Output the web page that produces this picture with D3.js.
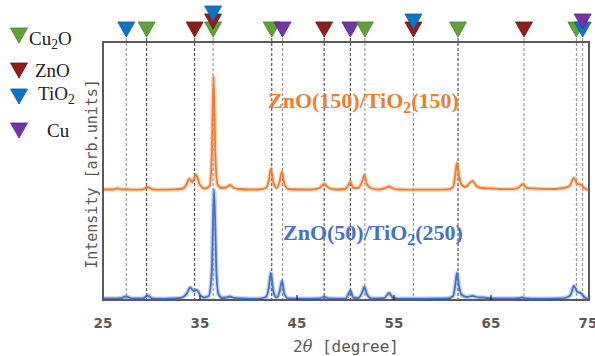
<!DOCTYPE html>
<html>
<head>
<meta charset="utf-8">
<script src="https://cdn.jsdelivr.net/npm/d3@7"></script>
<style>
  body { margin: 0; background: #fff; }
  svg { display: block; }
</style>
</head>
<body>
<script>
// XRD patterns (2theta in degree, intensity in arb. units)
var xTicks = [25, 35, 45, 55, 65, 75];

var phaseNames = ["Cu2O", "ZnO", "TiO2", "Cu"];
var cu2oLines = [29.5, 36.35, 42.4, 52.0, 61.6, 73.8];
var znoLines = [34.45, 36.35, 47.8, 57.0, 68.4];
var tio2Lines = [27.4, 36.35, 57.0, 74.45];
var cuLines = [43.5, 50.5, 74.45];

var labelTop = "ZnO(150)/TiO2(150)";
var labelBottom = "ZnO(50)/TiO2(250)";

var seriesTop = [
	[25, 0.5], [26, 0.5], [26.5, 1.5], [27, 0.5], [27.4, 0.8], [28, 0.3], [29.1, 0.5], [29.6, 3], [30.1, 0.5],
	[31, 0.3], [32, 0.5], [33, 1], [33.5, 3.5], [33.9, 11], [34.2, 8], [34.6, 15], [35, 5], [35.5, 1.5],
	[36, 4], [36.2, 30], [36.4, 113], [36.6, 30], [36.8, 6], [37.2, 2], [37.7, 2.5], [38.1, 5], [38.5, 2],
	[39, 1], [40, 0.5], [41, 0.5], [41.8, 2], [42.1, 10], [42.3, 21], [42.55, 8], [42.9, 2], [43.2, 8],
	[43.45, 18], [43.7, 6], [44.1, 1], [45, 0.5], [46.5, 0.5], [47.3, 2], [47.8, 6], [48.3, 2], [49, 0.5],
	[50, 1], [50.3, 5], [50.5, 8], [50.8, 2], [51.3, 2], [51.7, 8], [51.95, 15], [52.2, 6], [52.7, 1.5],
	[53.5, 0.5], [54.1, 2], [54.5, 3.5], [54.9, 1.5], [55.5, 0.5], [57, 0.3], [59, 0.3], [60.5, 0.5],
	[61.1, 3], [61.3, 14], [61.5, 27], [61.7, 14], [62, 5], [62.4, 3], [62.8, 7], [63.1, 9], [63.5, 4],
	[64, 2], [65, 1.5], [66, 1], [67, 0.8], [67.8, 2], [68.3, 6], [68.7, 2], [69.5, 1.5], [70.5, 1],
	[71.5, 1], [72.5, 2], [73.1, 4], [73.55, 12], [73.9, 6], [74.25, 5.5], [74.6, 2], [75, 0]
];

var seriesBottom = [
	[25, 0.5], [26, 0.5], [26.8, 0.8], [27.4, 2.5], [28, 0.5], [29.1, 0.5], [29.6, 3.5], [30.1, 0.5],
	[31, 0.3], [32, 0.5], [33, 1], [33.6, 5], [34, 11.5], [34.35, 8], [34.66, 9], [35, 4], [35.4, 1.5],
	[35.9, 3], [36.2, 25], [36.45, 109], [36.7, 25], [36.9, 5], [37.3, 1], [37.7, 1.5], [38.1, 2.5],
	[38.5, 1], [39.5, 0.5], [41, 0.3], [41.8, 2], [42.1, 12], [42.3, 26], [42.55, 8], [42.9, 1.5],
	[43.2, 7], [43.45, 18], [43.7, 5], [44.1, 0.5], [46, 0.3], [47.3, 0.5], [47.8, 2], [48.3, 0.5],
	[50, 0.3], [50.3, 5], [50.5, 8.5], [50.8, 1.5], [51.3, 1], [51.7, 6], [51.95, 12], [52.2, 5],
	[52.7, 0.5], [54, 0.8], [54.5, 6], [54.9, 1], [55.5, 0.3], [58, 0.3], [60.5, 0.5], [61.1, 3],
	[61.3, 13], [61.5, 26], [61.7, 13], [62, 4], [62.5, 2], [63.1, 3], [63.7, 1.5], [64.2, 1.5], [65, 0.5],
	[67, 0.5], [67.8, 0.8], [68.2, 1.5], [68.7, 0.5], [70, 0.3], [72, 0.5], [72.8, 1.5], [73.2, 4],
	[73.55, 13], [73.9, 7], [74.25, 6], [74.6, 2], [75, 0]
];
var topOffset = 109; // vertical shift of the upper pattern

var W = 595, H = 356;
var margin = {top: 42, right: 6, bottom: 56, left: 103};

var svg = d3.select("body").append("svg")
	.attr("width", W)
	.attr("height", H);

var x = d3.scaleLinear().domain([25, 75]).range([margin.left, 588]);
var y = d3.scaleLinear().domain([0, 260]).range([299, 39]);

var phaseColor = {Cu2O: "#62a03a", ZnO: "#8e1d1d", TiO2: "#0a74c9", Cu: "#7434a4"};
var phaseEdge = {Cu2O: "#4a7f2a", ZnO: "#6d1212", TiO2: "#075fa6", Cu: "#5b2485"};
var phaseLines = {Cu2O: cu2oLines, ZnO: znoLines, TiO2: tio2Lines, Cu: cuLines};

// reference lines (dashed)
var allLines = Array.from(new Set([].concat(cu2oLines, znoLines, tio2Lines, cuLines))).sort(d3.ascending);
var darkLines = [29.5, 34.45, 42.4, 47.8, 50.5, 61.6];

svg.append("g").selectAll("line")
	.data(allLines)
	.enter().append("line")
		.attr("x1", function(d) { return x(d); })
		.attr("x2", function(d) { return x(d); })
		.attr("y1", 38)
		.attr("y2", 300)
		.attr("stroke", function(d) { return darkLines.indexOf(d) >= 0 ? "#3a3a3a" : "#8c8c8c"; })
		.attr("stroke-width", 1)
		.attr("stroke-dasharray", "3,2");

// patterns
var line = d3.line()
	.x(function(d) { return x(d[0]); })
	.curve(d3.curveMonotoneX);

function drawPattern(data, offset, color) {
	line.y(function(d) { return y(d[1] + offset); });
	svg.append("path")
		.datum(data)
		.attr("d", line)
		.attr("fill", "none")
		.attr("stroke", color)
		.attr("stroke-opacity", 0.3)
		.attr("stroke-width", 4.5)
		.attr("stroke-linejoin", "round");
	svg.append("path")
		.datum(data)
		.attr("d", line)
		.attr("fill", "none")
		.attr("stroke", color)
		.attr("stroke-width", 1.8)
		.attr("stroke-linejoin", "round");
}
drawPattern(seriesTop, topOffset, "#ed7d31");
drawPattern(seriesBottom, 0, "#4472c4");

// frame
svg.append("rect")
	.attr("x", margin.left)
	.attr("y", margin.top)
	.attr("width", 589 - margin.left)
	.attr("height", 300 - margin.top)
	.attr("fill", "none")
	.attr("stroke", "#595959")
	.attr("stroke-width", 2);

// inward ticks
svg.append("g").selectAll("line")
	.data(xTicks.slice(1, -1))
	.enter().append("line")
		.attr("x1", function(d) { return x(d); })
		.attr("x2", function(d) { return x(d); })
		.attr("y1", 300)
		.attr("y2", 295)
		.attr("stroke", "#222")
		.attr("stroke-width", 1.2);

svg.append("g").selectAll("text")
	.data(xTicks)
	.enter().append("text")
		.attr("x", function(d) { return x(d); })
		.attr("y", 328)
		.attr("text-anchor", "middle")
		.attr("font-family", "DejaVu Sans")
		.attr("font-weight", "bold")
		.attr("font-size", 13.5)
		.attr("fill", "#595959")
		.text(function(d) { return d; });

// axis titles
var xt = svg.append("text")
	.attr("x", 293)
	.attr("y", 352)
	.attr("font-family", "DejaVu Sans Mono")
	.attr("font-size", 16)
	.attr("fill", "#595959");
xt.append("tspan").text("2");
xt.append("tspan").attr("font-style", "italic").attr("font-family", "DejaVu Serif").text("θ");
xt.append("tspan").text(" [degree]");

svg.append("text")
	.attr("transform", "translate(97,174) rotate(-90)")
	.attr("text-anchor", "middle")
	.attr("font-family", "DejaVu Sans Mono")
	.attr("font-size", 15)
	.attr("fill", "#595959")
	.text("Intensity [arb.units]");

// chemical formula with subscript digits
function formula(sel, str) {
	var parts = str.match(/[A-Za-z]+|\d+|[^A-Za-z\d]+/g);
	var prev = "", shifted = false;
	parts.forEach(function(p) {
		var ts = sel.append("tspan");
		if (/^\d+$/.test(p) && /[A-Za-z]$/.test(prev)) {
			ts.attr("font-size", "0.72em").attr("dy", "0.3em");
			shifted = true;
		} else if (shifted) {
			ts.attr("dy", "-0.216em");
			shifted = false;
		}
		ts.text(p);
		prev = p;
	});
}

var t1 = svg.append("text")
	.attr("x", 268).attr("y", 108)
	.attr("font-family", "Liberation Serif")
	.attr("font-weight", "bold")
	.attr("font-size", 22)
	.attr("fill", "#ed7d31");
formula(t1, labelTop);

var t2 = svg.append("text")
	.attr("x", 283).attr("y", 240)
	.attr("font-family", "Liberation Serif")
	.attr("font-weight", "bold")
	.attr("font-size", 22)
	.attr("fill", "#4472c4");
formula(t2, labelBottom);

// markers above the frame
var tri = function(cx, top) {
	return "M" + (cx - 8.5) + "," + top + "L" + (cx + 8.5) + "," + top + "L" + cx + "," + (top + 15) + "Z";
};
var markers = [];
phaseNames.forEach(function(p) {
	phaseLines[p].forEach(function(v) {
		var level = markers.filter(function(m) { return m.pos === v; }).length;
		markers.push({phase: p, pos: v, level: level});
	});
});
markers.sort(function(a, b) { return a.pos - b.pos || a.level - b.level; });

svg.append("g").selectAll("path")
	.data(markers)
	.enter().append("path")
		.attr("d", function(d) { return tri(x(d.pos), 22 - d.level * 8); })
		.attr("fill", function(d) { return phaseColor[d.phase]; })
		.attr("stroke", function(d) { return phaseEdge[d.phase]; })
		.attr("stroke-width", 0.8);

// legend
var legendY = [28, 63, 89, 123];
var legendTextX = [29, 35, 38, 47];
var legendBase = [45, 77, 100, 137];
phaseNames.forEach(function(p, i) {
	svg.append("path")
		.attr("d", tri(19, legendY[i]))
		.attr("fill", phaseColor[p])
		.attr("stroke", phaseEdge[p])
		.attr("stroke-width", 0.8);
	var t = svg.append("text")
		.attr("x", legendTextX[i])
		.attr("y", legendBase[i])
		.attr("font-family", "Liberation Serif")
		.attr("font-size", 19)
		.attr("fill", "#222");
	formula(t, p);
});
</script>
</body>
</html>
